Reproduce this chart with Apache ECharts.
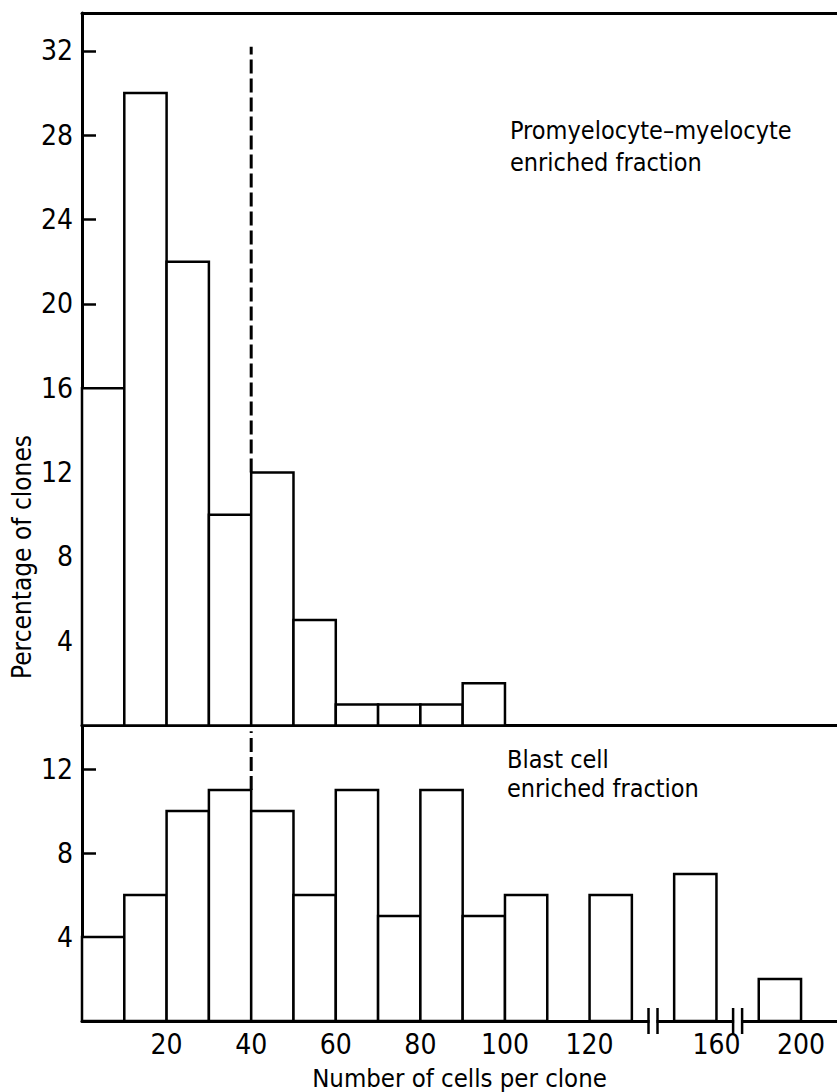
<!DOCTYPE html>
<html>
<head>
<meta charset="utf-8">
<script src="https://cdn.jsdelivr.net/npm/echarts@6/dist/echarts.min.js"></script>
<style>html,body{margin:0;padding:0;background:#fff}#c{width:837px;height:1092px}</style>
</head>
<body>
<div id="c"></div>
<script>
// ---- data ----
const binWidth = 10;
const topBinStarts = [0, 10, 20, 30, 40, 50, 60, 70, 80, 90];
const topValues    = [16, 30, 22, 10, 12, 5, 1, 1, 1, 2];
const bottomBinStarts = [0, 10, 20, 30, 40, 50, 60, 70, 80, 90, 100, 110, 120, 150, 190];
const bottomValues    = [4, 6, 10, 11, 10, 6, 11, 5, 11, 5, 6, 0, 6, 7, 2];
const xTickLabels = [20, 40, 60, 80, 100, 120, 160, 200];
const yTickTop = [4, 8, 12, 16, 20, 24, 28, 32];
const yTickBottom = [4, 8, 12];
const xBreaks = [[130, 150], [160, 190]];
const cutoffX = 40;
const topCutoff = [12, 32.2];
const bottomCutoff = [11, 13.8];
const topLabel = ['Promyelocyte\u2013myelocyte', 'enriched fraction'];
const bottomLabel = ['Blast cell', 'enriched fraction'];
const xTitle = 'Number of cells per clone';
const yTitle = 'Percentage of clones';

// broken axis: visible segments of the cell-count scale
const segments = [{from: 0, to: 130}, {from: 150, to: 160}, {from: 190, to: 210}];
function pos(v) {
  let at = 0;
  for (let i = 0; i < segments.length; i++) {
    const s = segments[i];
    if (v >= s.from && v <= s.to) return at + (v - s.from) / binWidth;
    at += (s.to - s.from) / binWidth + 1;
  }
  return at;
}
const xMax = 17.85;

const TXT = "'DejaVu Sans Condensed', 'DejaVu Sans', sans-serif";
const NUM = "'Liberation Sans Narrow', 'DejaVu Sans Condensed', sans-serif";

function barData(starts, vals) {
  const out = [];
  starts.forEach((s, i) => { if (vals[i] > 0) out.push([pos(s), pos(s + binWidth), vals[i]]); });
  return out;
}
function renderBar(params, api) {
  const p0 = api.coord([api.value(0), 0]);
  const p1 = api.coord([api.value(1), api.value(2)]);
  return {type: 'rect', shape: {x: p0[0], y: p1[1], width: p1[0] - p0[0], height: p0[1] - p1[1]},
          style: {fill: '#fff', stroke: '#000', lineWidth: 2.5}};
}
function renderBreak(params, api) {
  const c = api.coord([api.value(0), 0]);
  const g = 4.5, h = 13;
  return {type: 'group', children: [
    {type: 'rect', shape: {x: c[0] - g + 1, y: c[1] - 3, width: 2 * g - 2, height: 6}, style: {fill: '#fff'}},
    {type: 'line', shape: {x1: c[0] - g, y1: c[1] - h, x2: c[0] - g, y2: c[1] + h}, style: {stroke: '#000', lineWidth: 2.5}},
    {type: 'line', shape: {x1: c[0] + g, y1: c[1] - h, x2: c[0] + g, y2: c[1] + h}, style: {stroke: '#000', lineWidth: 2.5}}
  ]};
}

const xLabelMap = {};
xTickLabels.forEach(v => { xLabelMap[pos(v).toFixed(3)] = String(v); });

const axisLineStyle = {color: '#000', width: 3};
const option = {
  animation: false,
  backgroundColor: '#fff',
  grid: [
    {left: 82, right: 0, top: 13, height: 712.5},
    {left: 82, right: 0, top: 726, height: 296}
  ],
  xAxis: [
    {gridIndex: 0, type: 'value', min: 0, max: xMax, axisLine: {lineStyle: axisLineStyle}, axisTick: {show: false}, axisLabel: {show: false}, splitLine: {show: false}},
    {gridIndex: 0, type: 'value', position: 'top', min: 0, max: xMax, axisLine: {onZero: false, lineStyle: axisLineStyle}, axisTick: {show: false}, axisLabel: {show: false}, splitLine: {show: false}},
    {gridIndex: 1, type: 'value', min: 0, max: xMax,
     axisLine: {lineStyle: axisLineStyle}, axisTick: {show: false}, splitLine: {show: false},
     axisLabel: {customValues: xTickLabels.map(pos), margin: 9, fontFamily: NUM, fontSize: 28, color: '#000',
                 formatter: v => xLabelMap[Number(v).toFixed(3)] || ''},
     name: xTitle, nameLocation: 'middle', nameGap: 44,
     nameTextStyle: {fontFamily: TXT, fontSize: 25.5, color: '#000'}}
  ],
  yAxis: [
    {gridIndex: 0, type: 'value', min: 0, max: 33.8,
     axisLine: {lineStyle: axisLineStyle}, splitLine: {show: false},
     axisTick: {inside: true, length: 14, customValues: yTickTop, lineStyle: {color: '#000', width: 2.5}},
     axisLabel: {customValues: yTickTop, margin: 9, fontFamily: NUM, fontSize: 28, color: '#000'}},
    {gridIndex: 1, type: 'value', min: 0, max: 14.05,
     axisLine: {lineStyle: axisLineStyle}, splitLine: {show: false},
     axisTick: {inside: true, length: 14, customValues: yTickBottom, lineStyle: {color: '#000', width: 2.5}},
     axisLabel: {customValues: yTickBottom, margin: 9, fontFamily: NUM, fontSize: 28, color: '#000'}}
  ],
  series: [
    {type: 'custom', xAxisIndex: 0, yAxisIndex: 0, renderItem: renderBar, data: barData(topBinStarts, topValues), z: 3},
    {type: 'custom', xAxisIndex: 2, yAxisIndex: 1, renderItem: renderBar, data: barData(bottomBinStarts, bottomValues), z: 3},
    {type: 'line', xAxisIndex: 0, yAxisIndex: 0, symbol: 'none', z: 4,
     lineStyle: {color: '#000', width: 3, type: [14, 5]},
     data: topCutoff.map(y => [pos(cutoffX), y])},
    {type: 'line', xAxisIndex: 2, yAxisIndex: 1, symbol: 'none', z: 4,
     lineStyle: {color: '#000', width: 3, type: [14, 5]},
     data: bottomCutoff.map(y => [pos(cutoffX), y])},
    {type: 'custom', xAxisIndex: 2, yAxisIndex: 1, renderItem: renderBreak, clip: false, z: 5,
     data: xBreaks.map(b => [(pos(b[0]) + pos(b[1])) / 2])}
  ],
  graphic: [
    {type: 'text', left: 510, top: 118, style: {text: topLabel[0], font: '25px ' + TXT, fill: '#000'}},
    {type: 'text', left: 510, top: 150, style: {text: topLabel[1], font: '25px ' + TXT, fill: '#000'}},
    {type: 'text', left: 507, top: 747, style: {text: bottomLabel[0], font: '25px ' + TXT, fill: '#000'}},
    {type: 'text', left: 507, top: 776, style: {text: bottomLabel[1], font: '25px ' + TXT, fill: '#000'}},
    {type: 'text', x: 22, y: 557, rotation: Math.PI / 2,
     style: {text: yTitle, font: '26px ' + TXT, fill: '#000', align: 'center', verticalAlign: 'middle'}}
  ]
};
const chart = echarts.init(document.getElementById('c'), null, {renderer: 'svg'});
chart.setOption(option);
</script>
</body>
</html>
